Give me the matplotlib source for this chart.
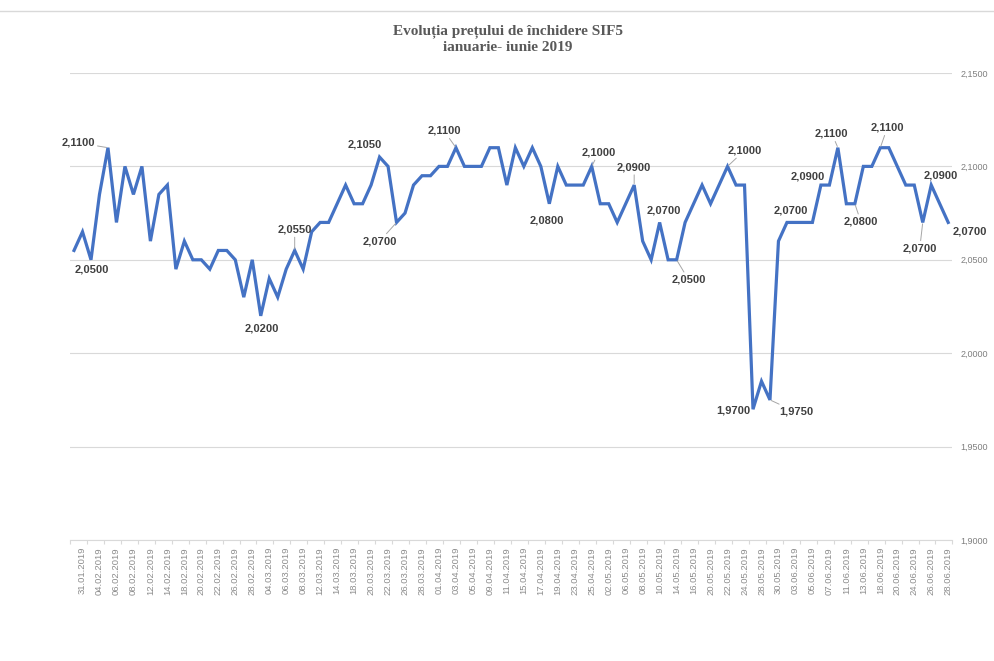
import matplotlib
matplotlib.use("Agg")
import matplotlib.pyplot as plt
from matplotlib.ticker import FuncFormatter

# zile de tranzactionare (30.01.2019 - 28.06.2019)
dates = [
    "30.01", "31.01",
    "01.02", "04.02", "05.02", "06.02", "07.02", "08.02", "11.02", "12.02", "13.02", "14.02",
    "15.02", "18.02", "19.02", "20.02", "21.02", "22.02", "25.02", "26.02", "27.02", "28.02",
    "01.03", "04.03", "05.03", "06.03", "07.03", "08.03", "11.03", "12.03", "13.03", "14.03",
    "15.03", "18.03", "19.03", "20.03", "21.03", "22.03", "25.03", "26.03", "27.03", "28.03", "29.03",
    "01.04", "02.04", "03.04", "04.04", "05.04", "08.04", "09.04", "10.04", "11.04", "12.04",
    "15.04", "16.04", "17.04", "18.04", "19.04", "22.04", "23.04", "24.04", "25.04", "30.04",
    "02.05", "03.05", "06.05", "07.05", "08.05", "09.05", "10.05", "13.05", "14.05", "15.05",
    "16.05", "17.05", "20.05", "21.05", "22.05", "23.05", "24.05", "27.05", "28.05", "29.05",
    "30.05", "31.05",
    "03.06", "04.06", "05.06", "06.06", "07.06", "10.06", "11.06", "12.06", "13.06", "14.06",
    "18.06", "19.06", "20.06", "21.06", "24.06", "25.06", "26.06", "27.06", "28.06",
]
dates = [d + ".2019" for d in dates]

# pret de inchidere SIF5
prices = [
    2.055, 2.065, 2.050, 2.085, 2.110, 2.070, 2.100, 2.085, 2.100, 2.060,
    2.085, 2.090, 2.045, 2.060, 2.050, 2.050, 2.045, 2.055, 2.055, 2.050,
    2.030, 2.050, 2.020, 2.040, 2.030, 2.045, 2.055, 2.045, 2.065, 2.070,
    2.070, 2.080, 2.090, 2.080, 2.080, 2.090, 2.105, 2.100, 2.070, 2.075,
    2.090, 2.095, 2.095, 2.100, 2.100, 2.110, 2.100, 2.100, 2.100, 2.110,
    2.110, 2.090, 2.110, 2.100, 2.110, 2.100, 2.080, 2.100, 2.090, 2.090,
    2.090, 2.100, 2.080, 2.080, 2.070, 2.080, 2.090, 2.060, 2.050, 2.070,
    2.050, 2.050, 2.070, 2.080, 2.090, 2.080, 2.090, 2.100, 2.090, 2.090,
    1.970, 1.985, 1.975, 2.060, 2.070, 2.070, 2.070, 2.070, 2.090, 2.090,
    2.110, 2.080, 2.080, 2.100, 2.100, 2.110, 2.110, 2.100, 2.090, 2.090,
    2.070, 2.090, 2.080, 2.070,
]

# puncte etichetate: (index, offset x/y in pixeli, linie de legatura)
callouts = [
    (2, (1, -10), False), (4, (-30, 5), True), (22, (1, -13), False),
    (26, (0, 21), True), (36, (-15, 13), False), (38, (-17, -19), True),
    (45, (-12, 17), True), (56, (-2, -17), False), (61, (7, 14), True),
    (66, (0, 18), True), (69, (4, 12), False), (71, (12, -20), True),
    (77, (17, 16), True), (80, (-20, -1), False), (82, (26, -12), True),
    (84, (4, 12), False), (88, (-13, 9), False), (90, (-6, 14), True),
    (92, (6, -18), True), (95, (7, 20), True), (100, (-3, -26), True),
    (101, (10, 10), False), (103, (22, -9), False),
]

y_ticks = [1.90, 1.95, 2.00, 2.05, 2.10, 2.15]


def fmt_ro(v):
    return f"{v:.4f}".replace(".", ",")


fig = plt.figure(figsize=(9.94, 6.61), dpi=100)
ax = fig.add_axes([0.0702, 0.183, 0.888, 0.7066])

x = list(range(len(prices)))
ax.plot(x, prices, color="#4472C4", lw=2.3, solid_joinstyle="miter", zorder=3)

ax.set_xlim(-0.5, len(prices) - 0.5)
ax.set_ylim(1.90, 2.15)

# axa y in dreapta
ax.yaxis.tick_right()
ax.set_yticks(y_ticks)
ax.yaxis.set_major_formatter(FuncFormatter(lambda v, p: fmt_ro(v)))
ax.tick_params(axis="y", length=0, pad=6, labelsize=6.5, labelcolor="#7f7f7f")
for lab in ax.get_yticklabels():
    lab.set_fontfamily("Liberation Sans")
ax.grid(axis="y", color="#d9d9d9", lw=0.8, zorder=0)

# axa x: etichete la fiecare a doua zi
ax.set_xticks(x[1::2])
ax.set_xticklabels(dates[1::2], rotation=90, fontsize=6.8, color="#8c8c8c",
                   fontfamily="Liberation Sans")
ax.tick_params(axis="x", which="major", length=0, pad=5)
ax.set_xticks([i - 0.5 for i in range(0, len(prices) + 1, 2)], minor=True)
ax.tick_params(axis="x", which="minor", length=3, color="#d9d9d9", width=0.8)

for s in ["top", "left", "right"]:
    ax.spines[s].set_visible(False)
ax.spines["bottom"].set_color("#d9d9d9")
ax.spines["bottom"].set_linewidth(0.8)

# etichete de valori
for idx, off, leader in callouts:
    arrow = dict(arrowstyle="-", color="#a6a6a6", lw=0.7, shrinkA=0, shrinkB=1) if leader else None
    ax.annotate(fmt_ro(prices[idx]), xy=(idx, prices[idx]), xytext=off,
                textcoords="offset pixels", ha="center", va="center",
                fontsize=8, fontweight="bold", color="#404040",
                fontfamily="Liberation Sans", arrowprops=arrow, zorder=4)

fig.text(0.511, 0.9635, "Evoluția prețului de închidere SIF5\nianuarie- iunie 2019",
         ha="center", va="top", fontsize=11, fontweight="bold", color="#595959",
         fontfamily="Liberation Serif", linespacing=1.3)

# chenarul de sus
fig.add_artist(plt.Line2D([0, 1], [0.983, 0.983], color="#d9d9d9", lw=1.0))

fig.savefig("out.png", dpi=100)
